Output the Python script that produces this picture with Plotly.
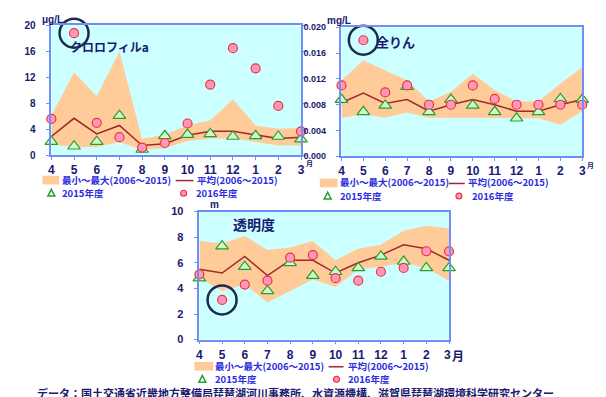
import plotly.graph_objects as go

# ---- data ---------------------------------------------------------------
months = ["4", "5", "6", "7", "8", "9", "10", "11", "12", "1", "2", "3"]

# クロロフィルa (μg/L)
chl_min = [1.7, 1.3, 1.3, 2.0, 0.9, 1.1, 2.2, 2.6, 2.6, 2.1, 1.5, 1.5]
chl_max = [6.1, 12.8, 9.1, 16.0, 2.5, 3.2, 4.6, 5.4, 8.6, 4.6, 4.1, 4.2]
chl_avg = [2.9, 5.7, 3.3, 4.6, 1.5, 1.8, 3.1, 3.7, 3.7, 3.2, 2.6, 2.8]
chl_2015 = [2.1, 1.4, 2.1, 6.1, 0.9, 3.0, 3.2, 3.3, 2.9, 3.0, 2.9, 2.5]
chl_2016 = [5.6, 18.8, 5.0, 2.8, 1.2, 1.9, 4.9, 10.9, 16.5, 13.4, 7.6, 3.7]

# 全りん (mg/L)
tp_min = [0.0060, 0.0065, 0.0060, 0.0068, 0.0060, 0.0060, 0.0060, 0.0060, 0.0060, 0.0059, 0.0049, 0.0070]
tp_max = [0.0118, 0.0149, 0.0133, 0.0118, 0.0085, 0.0100, 0.0128, 0.0103, 0.0085, 0.0085, 0.0113, 0.0138]
tp_avg = [0.0083, 0.0098, 0.0082, 0.0088, 0.0070, 0.0080, 0.0088, 0.0080, 0.0070, 0.0070, 0.0080, 0.0088]
tp_2015 = [0.0088, 0.0069, 0.0079, 0.0108, 0.0069, 0.0088, 0.0079, 0.0069, 0.0059, 0.0069, 0.0089, 0.0088]
tp_2016 = [0.0110, 0.0180, 0.0099, 0.0110, 0.0080, 0.0080, 0.0110, 0.0089, 0.0080, 0.0080, 0.0080, 0.0080]

# 透明度 (m)
sd_min = [4.8, 3.8, 4.3, 2.9, 3.8, 4.7, 4.1, 5.5, 5.7, 6.0, 5.6, 4.6]
sd_max = [7.7, 7.5, 8.1, 7.0, 7.2, 7.7, 6.2, 7.1, 7.4, 8.5, 8.9, 8.7]
sd_avg = [5.5, 5.2, 6.5, 5.0, 6.2, 6.2, 5.2, 6.0, 6.6, 7.4, 7.1, 6.2]
sd_2015 = [4.8, 7.3, 5.7, 3.8, 6.0, 5.0, 5.3, 5.6, 6.5, 6.1, 5.6, 5.6]
sd_2016 = [5.1, 3.1, 4.3, 4.6, 6.4, 6.6, 4.8, 4.6, 5.3, 5.6, 6.9, 6.9]

panel_titles = ["クロロフィルa", "全りん", "透明度"]
units = ["μg/L", "mg/L", "m"]
legend_band = "最小～最大(2006～2015)"
legend_avg = "平均(2006～2015)"
legend_prev = "2015年度"
legend_curr = "2016年度"
source_note = "データ：国土交通省近畿地方整備局琵琶湖河川事務所、水資源機構、滋賀県琵琶湖環境科学研究センター"

# ---- styling -------------------------------------------------------------
W, H = 606, 397
BAND = "#FFCC99"
AVG = "#9E2A2B"
TRI_FILL, TRI_LINE = "#CCFFCC", "#2E9A2E"
CIR_FILL, CIR_LINE = "#FF99BB", "#F03040"
RING = "#1C2B4A"
AXIS = "#6F8FF7"
NAVY = "#1A1A70"
LEG = "#2B2BE0"
NUM = "Arial, Liberation Sans, sans-serif"
JP = "Noto Sans CJK JP, sans-serif"


def px(x):
    return x / W


def py(y):
    return 1 - y / H


fig = go.Figure()

panels = [
    # values, axis suffix, plot box in px (x0, x1, ytop, ybottom), y range, dtick, tick format, y font
    (dict(mn=chl_min, mx=chl_max, avg=chl_avg, p=chl_2015, c=chl_2016), "", (49, 302, 20, 154), [0, 20], 4, None, 10),
    (dict(mn=tp_min, mx=tp_max, avg=tp_avg, p=tp_2015, c=tp_2016), "2", (343, 587, 22, 155), [0, 0.02], 0.004, ".3f", 9),
    (dict(mn=sd_min, mx=sd_max, avg=sd_avg, p=sd_2015, c=sd_2016), "3", (199, 452, 212, 344), [0, 10], 2, None, 11),
]

for vals, sfx, (x0, x1, yt, yb), yr, dt, fmt, yfs in panels:
    xa, ya = "x" + sfx, "y" + sfx
    common = dict(xaxis=xa, yaxis=ya, showlegend=False, hoverinfo="skip")
    fig.add_trace(go.Scatter(x=months, y=vals["mn"], mode="lines", line=dict(width=0, color=BAND), **common))
    fig.add_trace(go.Scatter(x=months, y=vals["mx"], mode="lines", fill="tonexty", fillcolor=BAND,
                             line=dict(width=0, color=BAND), **common))
    fig.add_trace(go.Scatter(x=months, y=vals["avg"], mode="lines", line=dict(width=1.5, color=AVG), **common))
    fig.add_trace(go.Scatter(x=months, y=vals["p"], mode="markers", cliponaxis=False,
                             marker=dict(symbol="triangle-up", size=11, color=TRI_FILL,
                                         line=dict(width=1.2, color=TRI_LINE)), **common))
    fig.add_trace(go.Scatter(x=months, y=vals["c"], mode="markers", cliponaxis=False,
                             marker=dict(symbol="circle", size=9, color=CIR_FILL,
                                         line=dict(width=1.2, color=CIR_LINE)), **common))
    # ring highlighting the May 2016 value
    fig.add_trace(go.Scatter(x=[months[1]], y=[vals["c"][1]], mode="markers", cliponaxis=False,
                             marker=dict(symbol="circle-open", size=29, color=RING,
                                         line=dict(width=2.5, color=RING)), **common))

    xkey = "xaxis" + sfx
    ykey = "yaxis" + sfx
    fig.update_layout({
        xkey: dict(domain=[px(x0), px(x1)], anchor=ya, type="category", range=[0, 11],
                   showline=True, linecolor=AXIS, linewidth=1.5, mirror=True,
                   ticks="outside", ticklen=3, tickcolor=AXIS,
                   tickvals=months, ticktext=months if sfx != "3" else months[:-1] + ["3 "],
                   tickfont=dict(family=NUM, size=12, color=NAVY, weight="bold"),
                   ticklabelstandoff=0, showgrid=False, zeroline=False, fixedrange=True),
        ykey: dict(domain=[py(yb), py(yt)], anchor=xa, range=yr, dtick=dt, tickformat=fmt,
                   showline=True, linecolor=AXIS, linewidth=1.5, mirror="ticks" if sfx == "" else True,
                   ticks="outside", ticklen=4, tickcolor=AXIS,
                   tickfont=dict(family=NUM, size=yfs, color=NAVY, weight="bold"),
                   ticklabelstandoff=8, showgrid=False, zeroline=False, fixedrange=True),
    })

annotations = []
shapes = []


def text(x, y, s, size=10, color=LEG, family=JP, anchor="left"):
    annotations.append(dict(x=px(x), y=py(y), xref="paper", yref="paper", text=s, showarrow=False,
                            xanchor=anchor, yanchor="middle", borderpad=0,
                            font=dict(family=family, size=size, color=color, weight="bold")))


# panel titles and units
text(67, 42, panel_titles[0], size=12, color=NAVY)
text(377, 37, panel_titles[1], size=13, color=NAVY)
text(232, 225, panel_titles[2], size=14, color=NAVY)
text(39, 14, units[0], size=10, color=NAVY, family=NUM)
text(327, 15, units[1], size=10, color=NAVY, family=NUM)
text(209, 205, units[2], size=10, color=NAVY, family=NUM)
text(306, 162, "月", size=7, color=NAVY)
text(591, 164, "月", size=7, color=NAVY)
text(454, 360, "月", size=12, color=NAVY)


def legend_block(sw_x0, sw_x1, row1_y, txt1_x, line_x0, line_x1, txt2_x, row2_y, tri_x, txt3_x, cir_x, txt4_x):
    shapes.append(dict(type="rect", xref="paper", yref="paper", x0=px(sw_x0), x1=px(sw_x1),
                       y0=py(row1_y + 5), y1=py(row1_y - 4), fillcolor=BAND, line=dict(width=0)))
    text(txt1_x, row1_y, legend_band, size=9.5)
    shapes.append(dict(type="line", xref="paper", yref="paper", x0=px(line_x0), x1=px(line_x1),
                       y0=py(row1_y + 1), y1=py(row1_y + 1), line=dict(color=AVG, width=1.5)))
    text(txt2_x, row1_y, legend_avg, size=9.5)
    # triangle key
    shapes.append(dict(type="path", xref="paper", yref="paper",
                       path=f"M {px(tri_x - 3.5)},{py(row2_y + 3)} L {px(tri_x + 3.5)},{py(row2_y + 3)} "
                            f"L {px(tri_x)},{py(row2_y - 4)} Z",
                       fillcolor="#FFFFFF", line=dict(color=TRI_LINE, width=1.5)))
    text(txt3_x, row2_y, legend_prev, size=9.5)
    shapes.append(dict(type="circle", xref="paper", yref="paper", x0=px(cir_x - 3), x1=px(cir_x + 3),
                       y0=py(row2_y + 3), y1=py(row2_y - 3), fillcolor=CIR_FILL,
                       line=dict(color=CIR_LINE, width=1.2)))
    text(txt4_x, row2_y, legend_curr, size=9.5)


legend_block(40, 57, 179, 59, 175, 193, 196, 193, 49, 59, 183, 195)
legend_block(321, 339, 182, 340, 452, 468, 470, 196, 329, 340, 462, 474)
legend_block(194, 213, 371, 214, 330, 345, 349, 385, 202, 214, 338, 349)

# source note along the bottom edge
annotations.append(dict(x=px(33), y=py(390), xref="paper", yref="paper", text=source_note,
                        showarrow=False, xanchor="left", yanchor="top", borderpad=0,
                        font=dict(family=JP, size=11, color=NAVY, weight="bold")))

fig.update_layout(width=W, height=H, margin=dict(l=0, r=0, t=0, b=0),
                  paper_bgcolor="#FFFFFF", plot_bgcolor="#CCFFFF",
                  showlegend=False, annotations=annotations, shapes=shapes)

fig.write_html("out.html")
